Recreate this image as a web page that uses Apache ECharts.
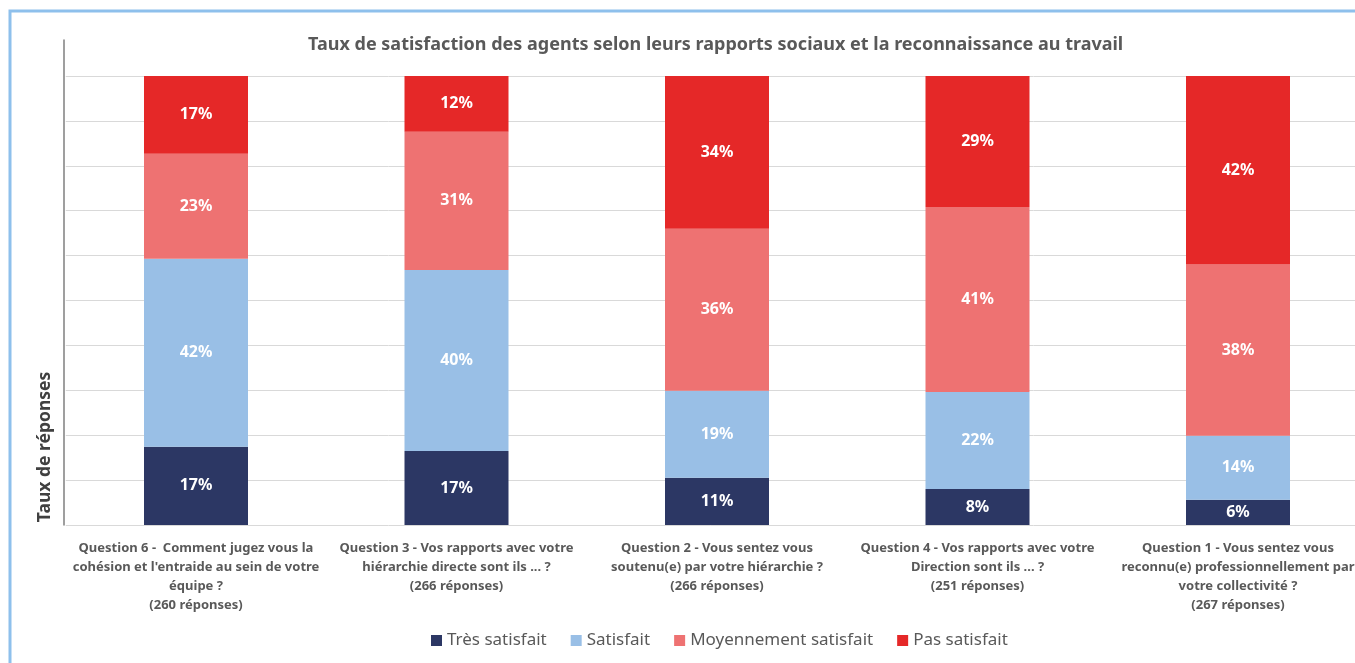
<!DOCTYPE html>
<html>
<head>
<meta charset="utf-8">
<script src="https://cdn.jsdelivr.net/npm/echarts@6/dist/echarts.min.js"></script>
<style>
  html, body { margin: 0; padding: 0; background: #fff; }
  #chart { width: 1355px; height: 663px; }
</style>
</head>
<body>
<div id="chart"></div>
<script>
// categories (questions) and answer shares in %
var questions = [
  'Question 6 -  Comment jugez vous la\ncohésion et l\'entraide au sein de votre\néquipe ?\n(260 réponses)',
  'Question 3 - Vos rapports avec votre\nhiérarchie directe sont ils ... ?\n(266 réponses)',
  'Question 2 - Vous sentez vous\nsoutenu(e) par votre hiérarchie ?\n(266 réponses)',
  'Question 4 - Vos rapports avec votre\nDirection sont ils ... ?\n(251 réponses)',
  'Question 1 - Vous sentez vous\nreconnu(e) professionnellement par\nvotre collectivité ?\n(267 réponses)'
]
var legendNames = ['Très satisfait', 'Satisfait', 'Moyennement satisfait', 'Pas satisfait']
var tresSatisfait = [17.4, 16.5, 10.5, 8.0, 5.6]
var satisfait = [41.9, 40.3, 19.4, 21.6, 14.3]
var moyennement = [23.4, 30.8, 36.1, 41.2, 38.1]
var pasSatisfait = [17.4, 12.4, 34.1, 29.2, 42.1]

var colors = ['#2c3764', '#99bfe6', '#ee7272', '#e52828']
var font = '"Noto Sans", sans-serif'

function barSeries(name, data, color) {
  return {
    name: name,
    type: 'bar',
    stack: 'total',
    data: data,
    barWidth: 104,
    itemStyle: { color: color },
    label: {
      show: true,
      position: 'inside',
      color: '#fff',
      fontFamily: font,
      fontWeight: 'bold',
      fontSize: 16,
      formatter: function (p) { return Math.round(p.value) + '%' }
    }
  }
}

var myChart = echarts.init(document.getElementById('chart'))
myChart.setOption({
  animation: false,
  title: {
    text: 'Taux de satisfaction des agents selon leurs rapports sociaux et la reconnaissance au travail',
    left: 303,
    top: 31,
    textStyle: { color: '#595959', fontFamily: font, fontWeight: 'bold', fontSize: 18 }
  },
  legend: {
    data: legendNames,
    left: 426,
    top: 627,
    icon: 'rect',
    itemWidth: 11,
    itemHeight: 11,
    itemGap: 24,
    textStyle: { color: '#595959', fontFamily: font, fontSize: 17 }
  },
  grid: [
    { left: 65.75, width: 1302.5, top: 76, bottom: 138, outerBoundsMode: 'none' },
    { left: 64, width: 1, top: 40, bottom: 138, outerBoundsMode: 'none' }
  ],
  xAxis: [
    {
      type: 'category',
      data: questions,
      axisLine: { show: false },
      axisTick: { show: false },
      axisLabel: {
        interval: 0,
        margin: 14,
        color: '#595959',
        fontFamily: font,
        fontWeight: 'bold',
        fontSize: 13,
        lineHeight: 19
      }
    },
    { type: 'value', gridIndex: 1, show: false }
  ],
  yAxis: [
    {
      type: 'value',
      min: 0,
      max: 100,
      interval: 10,
      axisLine: { show: false },
      axisTick: { show: false },
      axisLabel: { show: false },
      splitLine: { lineStyle: { color: '#d9d9d9', width: 1 } }
    },
    {
      type: 'value',
      gridIndex: 1,
      axisLine: { show: true, lineStyle: { color: '#7f7f7f', width: 1.5 } },
      axisTick: { show: false },
      axisLabel: { show: false },
      splitLine: { show: false }
    }
  ],
  graphic: [
    {
      type: 'rect',
      shape: { x: 10, y: 11, width: 1400, height: 700 },
      style: { fill: 'none', stroke: '#8ec0ec', lineWidth: 3 },
      silent: true
    },
    {
      type: 'text',
      x: 45,
      y: 447,
      rotation: Math.PI / 2,
      style: {
        text: 'Taux de réponses',
        fill: '#404040',
        font: 'bold 17.5px ' + font,
        textAlign: 'center',
        textVerticalAlign: 'middle'
      }
    }
  ],
  series: [
    barSeries(legendNames[0], tresSatisfait, colors[0]),
    barSeries(legendNames[1], satisfait, colors[1]),
    barSeries(legendNames[2], moyennement, colors[2]),
    barSeries(legendNames[3], pasSatisfait, colors[3])
  ]
})
</script>
</body>
</html>
